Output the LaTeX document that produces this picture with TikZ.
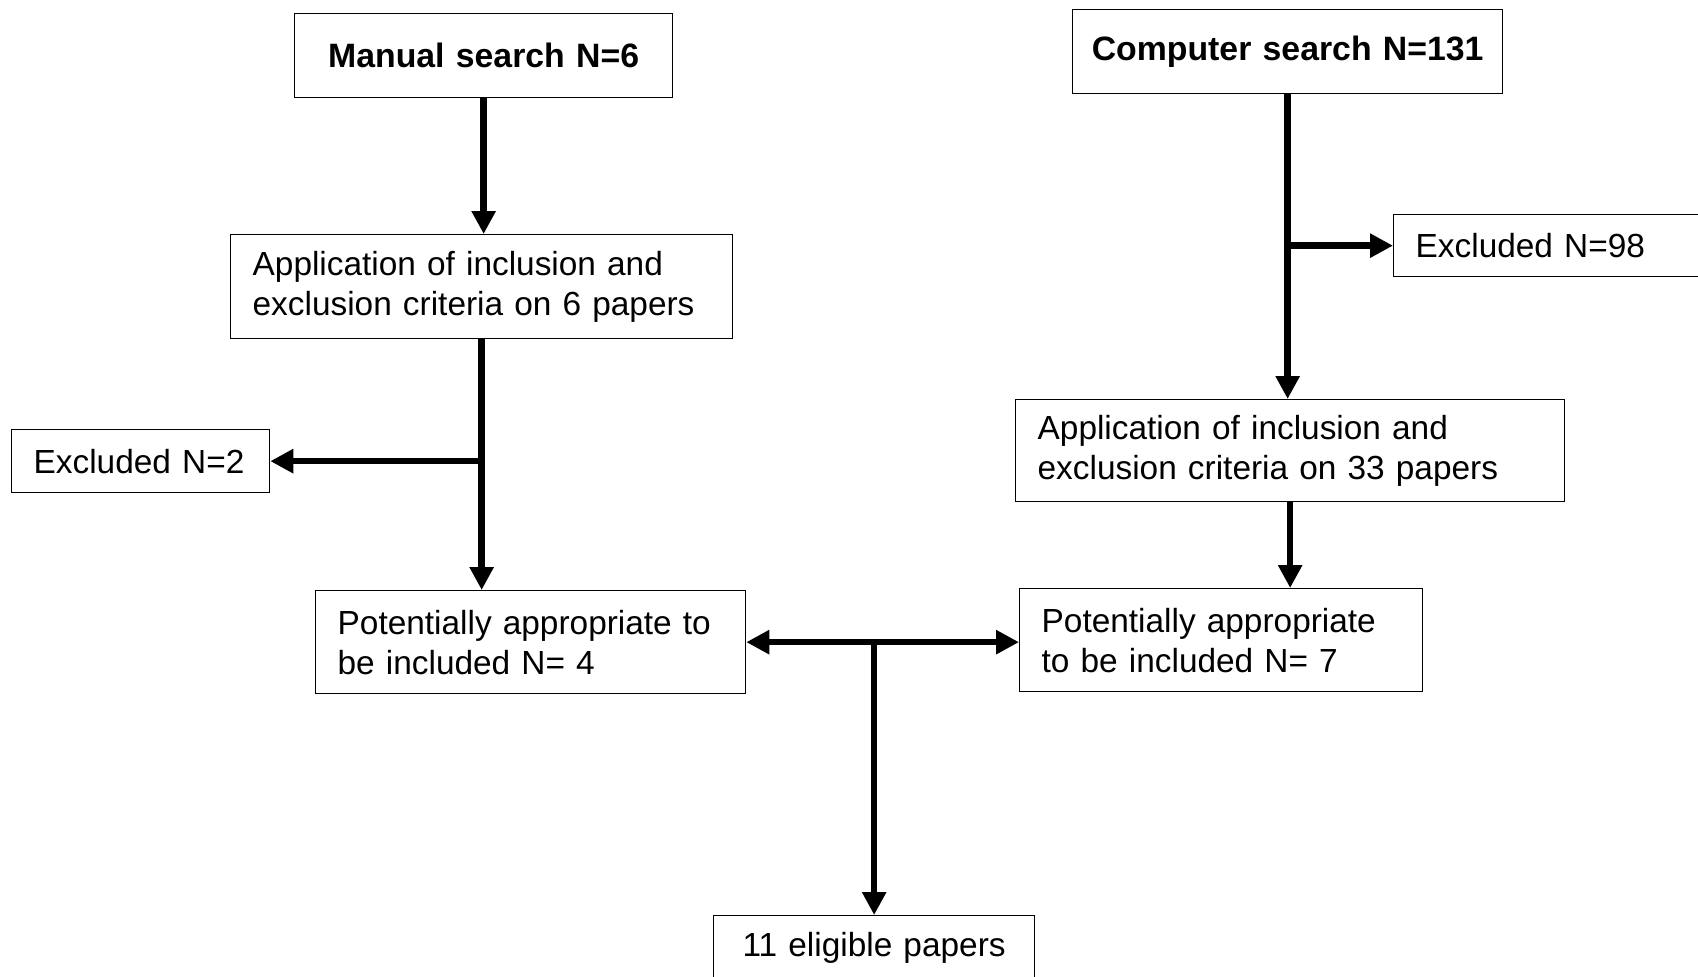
\documentclass[tikz,border=0pt]{standalone}
\usepackage{fontspec}
\setmainfont{Liberation Sans}
\usetikzlibrary{arrows.meta}

\begin{document}
\begin{tikzpicture}[x=1pt,y=-1pt]
				\tikzstyle{box}=[draw, line width=1.3pt, anchor=north west, inner xsep=22pt, inner ysep=0pt, align=left, font=\fontsize{33.4}{40}\selectfont]
				\tikzstyle{hbox}=[box, align=center, inner xsep=0pt, font=\fontsize{33.8}{40}\selectfont\bfseries]
				\tikzstyle{conn}=[line width=6.5pt]
				\tikzstyle{arr}=[conn, -{Triangle[length=23pt,width=23pt]}]
				\tikzstyle{arr2}=[conn, {Triangle[length=23pt,width=23pt]}-{Triangle[length=23pt,width=23pt]}]
				\useasboundingbox (0,0) rectangle (1698,977);
				\clip (0,0) rectangle (1698,977);
				% left column
				\node[hbox, text width=378pt, minimum height=84pt] (man) at (294,13) {Manual search N=6};
				\node[box, text width=458pt, minimum height=104pt] (app1) at (230,234) {Application of inclusion and\\exclusion criteria on 6 papers};
				\node[box, text width=214pt, minimum height=63pt] (exc2) at (11,429) {Excluded N=2};
				\node[box, text width=386pt, minimum height=103pt] (pot1) at (315,590) {Potentially appropriate to\\be included N= 4};
				% right column
				\node[hbox, text width=430pt, minimum height=84pt] (comp) at (1072,9) {Computer search N=131};
				\node[box, text width=286pt, minimum height=62pt] (exc98) at (1393,214) {Excluded N=98};
				\node[box, text width=505pt, minimum height=102pt] (app2) at (1015,399) {Application of inclusion and\\exclusion criteria on 33 papers};
				\node[box, text width=359pt, minimum height=103pt] (pot2) at (1019,588) {Potentially appropriate\\to be included N= 7};
				\node[box, align=center, inner xsep=0pt, text width=321pt, minimum height=64pt] (fin) at (713,915) {11 eligible papers};
				\draw[arr] (man.south) -- (man.south |- app1.north);
				\draw[arr] (app1.south) -- (app1.south |- pot1.north);
				\draw[arr] (app1.south |- exc2.east) -- (exc2.east);
				\draw[arr] (comp.south) -- (comp.south |- app2.north);
				\draw[arr] (comp.south |- exc98.west) -- (exc98.west);
				\draw[arr] (app2.south) -- (app2.south |- pot2.north);
				\draw[arr2] (pot1.east) -- (pot1.east -| pot2.west);
				\draw[arr] (fin.north |- pot1.east) -- (fin.north);
			\end{tikzpicture}
\end{document}
